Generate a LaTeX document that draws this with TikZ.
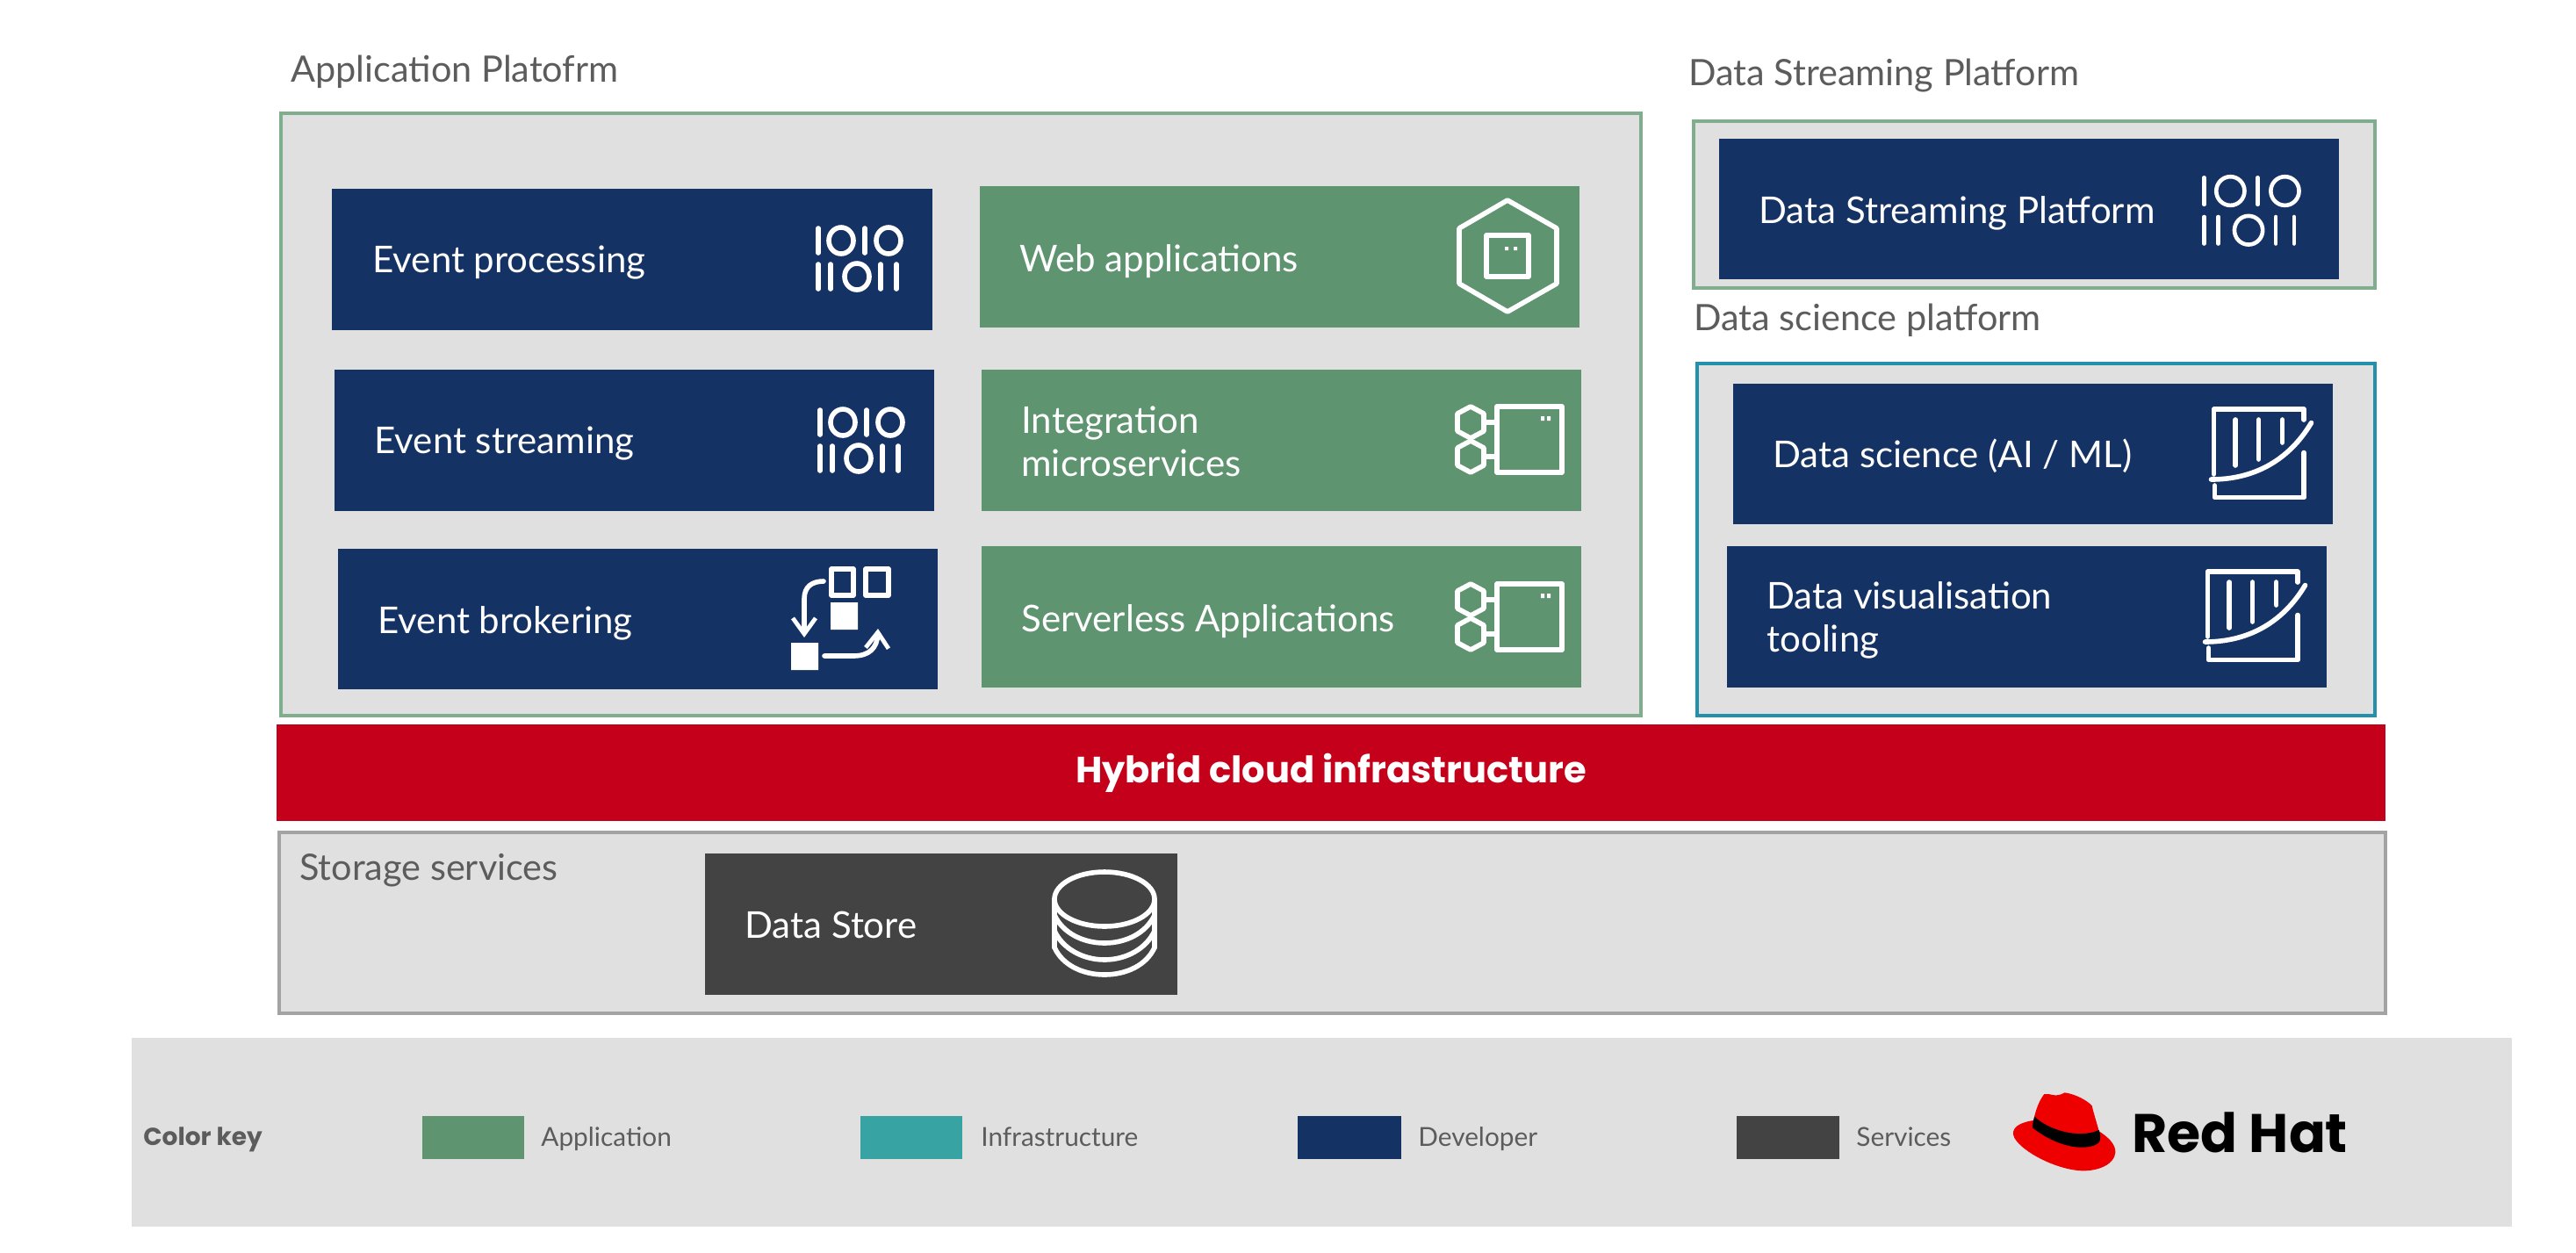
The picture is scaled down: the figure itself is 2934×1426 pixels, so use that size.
\documentclass[tikz,border=0pt]{standalone}
\usepackage{fontspec}
\setmainfont{Lato}
\newfontfamily\logofont{Poppins}[UprightFont=*-Bold]
\usetikzlibrary{arrows.meta}
\definecolor{navy}{HTML}{143264}
\definecolor{appgreen}{HTML}{5F9470}
\definecolor{panelgrey}{HTML}{E0E0E0}
\definecolor{greenline}{HTML}{7FAD8E}
\definecolor{tealline}{HTML}{2391AB}
\definecolor{hybridred}{HTML}{C4001A}
\definecolor{greyline}{HTML}{A3A3A3}
\definecolor{infrateal}{HTML}{38A3A3}
\definecolor{darkgrey}{HTML}{434343}
\definecolor{hatred}{HTML}{EE0000}
\definecolor{titlegrey}{HTML}{5C5C5C}
\tikzset{
  boxbase/.style={anchor=north west,inner sep=0pt,outer sep=0pt},
  navybox/.style={boxbase,fill=navy},
  greenbox/.style={boxbase,fill=appgreen},
  darkbox/.style={boxbase,fill=darkgrey},
  tealbox/.style={boxbase,fill=infrateal},
  panelgreen/.style={boxbase,fill=panelgrey,draw=greenline,line width=2.2pt},
  panelteal/.style={boxbase,fill=panelgrey,draw=tealline,line width=2pt},
  panelstore/.style={boxbase,fill=panelgrey,draw=greyline,line width=2.2pt},
  bandbox/.style={boxbase,fill=panelgrey},
  redbox/.style={boxbase,fill=hybridred},
  boxtext/.style={anchor=base west,inner sep=0pt,text=white,font=\fontsize{21}{24.5}\selectfont},
  boxtextmulti/.style={anchor=west,inner sep=0pt,text=white,align=left,font=\fontsize{21}{24.5}\selectfont},
  titletext/.style={anchor=base west,inner sep=0pt,text=titlegrey,font=\fontsize{20.7}{24}\selectfont},
  keytext/.style={anchor=base west,inner sep=0pt,text=titlegrey,font=\fontsize{14.9}{18}\selectfont},
  iconline/.style={draw=white,line width=2.8pt,line cap=round,line join=round},
}
\newcommand{\bx}[6]{\node[#6,minimum width={(#4-#2)*0.5pt},minimum height={(#5-#3)*0.5pt}] (#1) at (#2,#3) {};}
% binary icon, local origin at the top left corner
\newcommand{\binicon}[3][]{\begin{scope}[shift={(#2,#3)},#1]
  \draw[iconline] (3,3) -- (3,31) (56,3) -- (56,31);
  \draw[iconline] (29,17) ellipse (14 and 15) (83,17) ellipse (14 and 15);
  \draw[iconline] (3,44) -- (3,72) (17,44) -- (17,72) (74,44) -- (74,72) (92,44) -- (92,72);
  \draw[iconline] (47,58) ellipse (14 and 15);
\end{scope}}
% microservice icon, local origin at the top left corner of the rectangle
\newcommand{\svcicon}[2]{\begin{scope}[shift={(#1,#2)}]
  \draw[iconline] (0,0) rectangle (74,75);
  \draw[iconline] (-14,18) -- (0,18) (-14,57) -- (0,57);
  \draw[iconline] (-30,0) -- (-15,8) -- (-15,28) -- (-30,36) -- (-45,28) -- (-45,8) -- cycle;
  \draw[iconline] (-30,39) -- (-15,47) -- (-15,67) -- (-30,75) -- (-45,67) -- (-45,47) -- cycle;
  \fill[white] (50,11) rectangle (54,16) (57,11) rectangle (61,16);
\end{scope}}
% chart icon
\newcommand{\charticon}[2]{\begin{scope}[shift={(#1,#2)}]
  \draw[iconline] (102.6,13) -- (102.6,1) -- (0,1) -- (0,75);
  \draw[iconline] (-3,81) .. controls (45,81) and (85,60) .. (111,16.5);
  \draw[iconline] (1,88) -- (1,101.5) -- (102.6,101.5) -- (102.6,50.5);
  \draw[iconline] (24.7,13) -- (24.7,65) (51,13) -- (51,58) (78,13) -- (78,39);
\end{scope}}
\begin{document}
\begin{tikzpicture}[x=0.5pt,y=-0.5pt]
\useasboundingbox (0,0) rectangle (2934,1426);
\fill[white] (0,0) rectangle (2934,1426);

% panels
\bx{apppanel}{320}{129}{1869}{815}{panelgreen}
\bx{dsppanel}{1929}{138}{2705}{328}{panelgreen}
\bx{scipanel}{1933}{414}{2705}{815}{panelteal}
\bx{hybrid}{315}{825}{2717}{935}{redbox}
\bx{storage}{318}{948}{2717}{1154}{panelstore}
\bx{keyband}{150}{1182}{2861}{1397}{bandbox}

% titles
\node[titletext] (tapp) at (331,93) {Application Platofrm};
\node[titletext] (tdsp) at (1923,97) {Data Streaming Platform};
\node[titletext] (tsci) at (1929,376) {Data science platform};
\node[titletext] (tsto) at (341,1002) {Storage services};

% navy column
\bx{evproc}{378}{215}{1062}{376}{navybox}
\bx{evstream}{381}{421}{1064}{582}{navybox}
\bx{evbroker}{385}{625}{1068}{785}{navybox}
\node[boxtext] (tevproc) at (424,310) {Event processing};
\node[boxtext] (tevstream) at (426,516) {Event streaming};
\node[boxtext] (tevbroker) at (430,721) {Event brokering};
\binicon{929}{257}
\binicon{931}{464}

% broker icon
\draw[iconline] (947,648) rectangle (972,678) (986,648) rectangle (1012,678);
\fill[white] (946,686) rectangle (977,717) (901,732) rectangle (932,763);
\draw[iconline,-{Straight Barb[length=9pt,width=13pt,line width=2.4pt]}] (938,662) .. controls (925,662) and (916,668) .. (916,682) -- (916,726);
\draw[iconline,-{Straight Barb[length=9pt,width=13pt,line width=2.4pt]}] (939,747) -- (972,747) .. controls (990,747) and (999,738) .. (1000,716);

% green column
\bx{webapp}{1116}{212}{1799}{373}{greenbox}
\bx{integ}{1118}{421}{1801}{582}{greenbox}
\bx{serverless}{1118}{622}{1801}{783}{greenbox}
\node[boxtext] (twebapp) at (1161,309) {Web applications};
\node[boxtextmulti] (tinteg) at (1163,503) {Integration\\microservices};
\node[boxtext] (tserverless) at (1163,719) {Serverless Applications};

\draw[iconline] (1717,228) -- (1773,260) -- (1773,323) -- (1717,355) -- (1662,323) -- (1662,260) -- cycle;
\draw[iconline] (1693,268) rectangle (1741,315);
\fill[white] (1714,281) rectangle (1718,285) (1724,281) rectangle (1728,285);
\svcicon{1705}{463}
\svcicon{1705}{665}

% data streaming
\bx{dspbox}{1958}{158}{2664}{318}{navybox}
\node[boxtext] (tdspbox) at (2003,254) {Data Streaming Platform};
\binicon[xscale=1.15,yscale=1.09,iconline/.append style={line width=2.3pt}]{2507}{199}

% data science
\bx{sciai}{1974}{437}{2657}{597}{navybox}
\bx{scivis}{1967}{622}{2650}{783}{navybox}
\node[boxtext] (tsciai) at (2019,532) {Data science (AI / ML)};
\node[boxtextmulti] (tscivis) at (2012,706) {Data visualisation\\tooling};
\charticon{2521.5}{465}
\charticon{2514.5}{650}

% hybrid label
\node[inner sep=0pt,text=white,font=\logofont\fontsize{20.8}{24}\selectfont] (thybrid) at (hybrid.center) {Hybrid cloud infrastructure};

% data store
\bx{datastore}{803}{972}{1341}{1133}{darkbox}
\node[boxtext] (tdatastore) at (848,1068) {Data Store};
\begin{scope}[shift={(1258,1024)}]
  \draw[iconline] (0,0) ellipse (57 and 31);
  \draw[iconline] (-57,0) -- (-57,55) (57,0) -- (57,55);
  \draw[iconline] (-57,18) .. controls (-48,38) and (-25,50) .. (0,50) .. controls (25,50) and (48,38) .. (57,18);
  \draw[iconline] (-57,36) .. controls (-48,56) and (-25,69) .. (0,69) .. controls (25,69) and (48,56) .. (57,36);
  \draw[iconline] (-57,55) .. controls (-48,75) and (-25,86) .. (0,86) .. controls (25,86) and (48,75) .. (57,55);
\end{scope}

% colour key
\node[anchor=base west,inner sep=0pt,text=titlegrey,font=\logofont\fontsize{14}{16}\selectfont] (tkey) at (163,1304) {Color key};
\bx{swapp}{481}{1271}{597}{1320}{greenbox}
\bx{swinf}{980}{1271}{1096}{1320}{tealbox}
\bx{swdev}{1478}{1271}{1596}{1320}{navybox}
\bx{swsrv}{1978}{1271}{2095}{1320}{darkbox}
\node[keytext] (tkapp) at (616,1305) {Application};
\node[keytext] (tkinf) at (1117,1305) {Infrastructure};
\node[keytext] (tkdev) at (1615,1305) {Developer};
\node[keytext] (tksrv) at (2114,1305) {Services};

% logo
\begin{scope}[shift={(2200,1201)},scale=1/3]
  \fill[hatred] (385,135) .. controls (405,130) and (420,150) .. (455,130)
     .. controls (490,135) and (530,155) .. (548,175)
     .. controls (555,205) and (565,235) .. (572,262)
     .. controls (600,280) and (630,305) .. (628,335)
     .. controls (625,375) and (570,398) .. (515,397)
     .. controls (440,395) and (330,345) .. (290,295)
     .. controls (265,265) and (280,235) .. (348,225)
     .. controls (355,195) and (365,160) .. (385,135) -- cycle;
  \fill[black] (352,212) .. controls (395,255) and (500,290) .. (572,258)
     .. controls (578,275) and (578,290) .. (572,300)
     .. controls (540,330) and (440,325) .. (345,250)
     .. controls (345,235) and (348,225) .. (352,212) -- cycle;
\end{scope}
\node[anchor=base west,inner sep=0pt,text=black,font=\logofont\fontsize{30.9}{36}\selectfont] (tlogo) at (2428,1312) {Red Hat};
\end{tikzpicture}
\end{document}
